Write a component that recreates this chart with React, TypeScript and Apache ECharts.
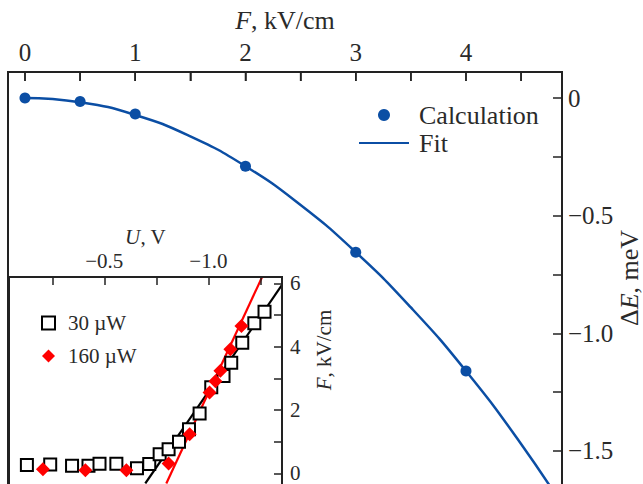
import React, { useEffect, useRef } from "react";
import * as echarts from "echarts";

// Main chart: calculation points and fit curve
const fieldCalc = [0, 0.5, 1, 2, 3, 4];
const deltaECalc = [0, -0.015, -0.068, -0.29, -0.655, -1.16];
const fieldFit = [0, 0.5, 1, 1.5, 2, 2.5, 3, 3.5, 4, 4.5, 4.9];
const deltaEFit = [0, -0.018, -0.072, -0.163, -0.29, -0.455, -0.655, -0.89, -1.16, -1.47, -1.75];

// Inset: F versus U
const u30 = [-0.128, -0.24, -0.345, -0.424, -0.477, -0.558, -0.657, -0.716, -0.766, -0.809, -0.859, -0.907, -0.958, -1.014, -1.073, -1.11, -1.163, -1.221, -1.27];
const f30 = [0.26, 0.28, 0.24, 0.24, 0.3, 0.3, 0.16, 0.29, 0.6, 0.76, 1.0, 1.39, 1.89, 2.72, 3.07, 3.49, 4.12, 4.74, 5.1];
const u160 = [-0.205, -0.409, -0.606, -0.809, -0.91, -1.006, -1.034, -1.058, -1.106, -1.159];
const f160 = [0.13, 0.1, 0.1, 0.31, 1.23, 2.55, 2.91, 3.24, 3.92, 4.65];
const uFit30 = [-0.697, -1.354];
const fFit30 = [-0.32, 5.95];
const uFit160 = [-0.798, -1.274];
const fFit160 = [-0.32, 6.42];

// Tick values
const mainXTicks = [0, 0.5, 1, 1.5, 2, 2.5, 3, 3.5, 4, 4.5];
const mainXLabels = [0, 1, 2, 3, 4];
const mainYTicks = [0, -0.25, -0.5, -0.75, -1, -1.25, -1.5];
const mainYLabels = [0, -0.5, -1, -1.5];
const insetXTicks = [-0.25, -0.5, -0.75, -1, -1.25];
const insetXLabels = [-0.5, -1];
const insetYTicks = [0, 1, 2, 3, 4, 5, 6];
const insetYLabels = [0, 2, 4, 6];

const X_MIN = -0.154;
const X_MAX = 4.871;
const Y_MIN = -1.653;
const Y_MAX = 0.1105;
const GRID_TOP = 72;

const FONT = "Liberation Serif";
const TXT = "#2a2a2a";
const AXC = "#222";
const BLUE = "#0b4ea4";

const zip = (a: number[], b: number[]) => a.map((v, i) => [v, b[i]]);
const fmtNeg = (v: number) => (v === 0 ? "0" : v < 0 ? "\u2212" + Math.abs(v).toFixed(1) : String(v));
const lineAx = () => ({ show: true, onZero: false, lineStyle: { color: AXC, width: 2 } });
const tickAx = (vals: number[], len: number) => ({
  show: true,
  inside: true,
  length: len,
  customValues: vals,
  lineStyle: { color: AXC, width: 1.5 },
});

const textGraphics = [
  {
    id: "titleTop",
    type: "text",
    x: 285,
    y: 20,
    z: 50,
    style: {
      text: "{i|F}, kV/cm",
      fontFamily: FONT,
      fontSize: 26,
      fill: TXT,
      align: "center",
      verticalAlign: "middle",
      rich: { i: { fontFamily: FONT, fontSize: 26, fontStyle: "italic", fill: TXT } },
    },
  },
  {
    id: "titleRight",
    type: "text",
    x: 629,
    y: 278,
    z: 50,
    rotation: Math.PI / 2,
    style: {
      text: "\u0394{i|E}, meV",
      fontFamily: FONT,
      fontSize: 26,
      fill: TXT,
      align: "center",
      verticalAlign: "middle",
      rich: { i: { fontFamily: FONT, fontSize: 26, fontStyle: "italic", fill: TXT } },
    },
  },
  {
    id: "titleInset",
    type: "text",
    x: 324,
    y: 350,
    z: 50,
    rotation: Math.PI / 2,
    style: {
      text: "{i|F}, kV/cm",
      fontFamily: FONT,
      fontSize: 21,
      fill: TXT,
      align: "center",
      verticalAlign: "middle",
      rich: { i: { fontFamily: FONT, fontSize: 21, fontStyle: "italic", fill: TXT } },
    },
  },
];

export default function App() {
  const ref = useRef<HTMLDivElement>(null);
  useEffect(() => {
    if (!ref.current) return;
    const chart = echarts.init(ref.current, undefined, { renderer: "svg" });
    const option: any = {
      animation: false,
      grid: [
        {
          left: 8,
          right: 81,
          top: GRID_TOP,
          bottom: -3,
          outerBoundsMode: "none",
          containLabel: false,
          show: true,
          borderColor: AXC,
          borderWidth: 2,
          backgroundColor: "transparent",
        },
        {
          left: 9,
          right: 361,
          top: 277,
          bottom: -3,
          outerBoundsMode: "none",
          containLabel: false,
          show: true,
          borderColor: AXC,
          borderWidth: 2,
          backgroundColor: "#fff",
        },
      ],
      legend: [
        {
          data: [
            { name: "Calculation", icon: "circle" },
            { name: "Fit", itemStyle: { opacity: 0 } },
          ],
          orient: "vertical",
          left: 358,
          top: 102,
          padding: 0,
          itemWidth: 50,
          itemHeight: 12,
          itemGap: 2,
          textStyle: { fontFamily: FONT, fontSize: 26, color: TXT, lineHeight: 26, padding: [0, 0, 0, 5] },
        },
        {
          data: ["30 \u00b5W", "160 \u00b5W"],
          orient: "vertical",
          left: 41,
          top: 312,
          padding: 0,
          itemWidth: 13,
          itemHeight: 13,
          itemGap: 11,
          textStyle: { fontFamily: FONT, fontSize: 21, color: TXT, lineHeight: 22, padding: [0, 0, 0, 8] },
        },
      ],
      xAxis: [
        {
          gridIndex: 0,
          type: "value",
          position: "top",
          min: X_MIN,
          max: X_MAX,
          z: 10,
          axisLine: lineAx(),
          splitLine: { show: false },
          axisTick: tickAx(mainXTicks, 9),
          axisLabel: {
            customValues: mainXLabels,
            margin: 7,
            fontFamily: FONT,
            fontSize: 25,
            color: TXT,
            formatter: (v: number) => String(v),
          },
        },
        {
          gridIndex: 1,
          type: "value",
          position: "top",
          inverse: true,
          min: -1.354,
          max: -0.042,
          z: 10,
          axisLine: lineAx(),
          splitLine: { show: false },
          axisTick: tickAx(insetXTicks, 8),
          axisLabel: {
            customValues: insetXLabels,
            margin: 6,
            fontFamily: FONT,
            fontSize: 21,
            color: TXT,
            formatter: fmtNeg,
          },
          name: "{i|U}, V",
          nameLocation: "middle",
          nameGap: 30,
          nameTextStyle: {
            fontFamily: FONT,
            fontSize: 21,
            color: TXT,
            rich: { i: { fontFamily: FONT, fontSize: 21, fontStyle: "italic", color: TXT } },
          },
        },
      ],
      yAxis: [
        {
          gridIndex: 0,
          type: "value",
          position: "right",
          min: Y_MIN,
          max: Y_MAX,
          z: 10,
          axisLine: lineAx(),
          splitLine: { show: false },
          axisTick: tickAx(mainYTicks, 9),
          axisLabel: {
            customValues: mainYLabels,
            margin: 6,
            fontFamily: FONT,
            fontSize: 25,
            color: TXT,
            formatter: fmtNeg,
          },
        },
        {
          gridIndex: 1,
          type: "value",
          position: "right",
          min: -0.433,
          max: 6.2,
          z: 10,
          axisLine: lineAx(),
          splitLine: { show: false },
          axisTick: tickAx(insetYTicks, 8),
          axisLabel: {
            customValues: insetYLabels,
            margin: 8,
            fontFamily: FONT,
            fontSize: 21,
            color: TXT,
            formatter: (v: number) => String(v),
          },
        },
      ],
      graphic: textGraphics,
      series: [
        {
          name: "Fit",
          type: "line",
          xAxisIndex: 0,
          yAxisIndex: 0,
          data: zip(fieldFit, deltaEFit),
          smooth: true,
          symbol: "none",
          clip: true,
          lineStyle: { color: BLUE, width: 2.5 },
          itemStyle: { color: BLUE },
        },
        {
          name: "Calculation",
          type: "scatter",
          xAxisIndex: 0,
          yAxisIndex: 0,
          data: zip(fieldCalc, deltaECalc),
          symbol: "circle",
          symbolSize: 11,
          itemStyle: { color: BLUE, opacity: 1 },
          z: 3,
        },
        {
          name: "fit30",
          type: "line",
          xAxisIndex: 1,
          yAxisIndex: 1,
          data: zip(uFit30, fFit30),
          symbol: "none",
          clip: true,
          lineStyle: { color: "#000", width: 2.2 },
          z: 2,
        },
        {
          name: "fit160",
          type: "line",
          xAxisIndex: 1,
          yAxisIndex: 1,
          data: zip(uFit160, fFit160),
          symbol: "none",
          clip: true,
          lineStyle: { color: "#ff0000", width: 2.2 },
          z: 2,
        },
        {
          name: "30 \u00b5W",
          type: "scatter",
          xAxisIndex: 1,
          yAxisIndex: 1,
          data: zip(u30, f30),
          symbol: "rect",
          symbolSize: 12,
          itemStyle: { color: "#fff", borderColor: "#000", borderWidth: 2, opacity: 1 },
          z: 3,
        },
        {
          name: "160 \u00b5W",
          type: "scatter",
          xAxisIndex: 1,
          yAxisIndex: 1,
          data: zip(u160, f160),
          symbol: "diamond",
          symbolSize: 14,
          itemStyle: { color: "#ff0000", opacity: 1 },
          z: 4,
        },
      ],
    };
    chart.setOption(option);

    // Top frame and ticks of the main plot as filled bars, x positions from the library's scale
    const toX = (v: number) => {
      const p: any = chart.convertToPixel({ xAxisIndex: 0 }, v);
      return Array.isArray(p) ? Number(p[0]) : Number(p);
    };
    const leftX = toX(X_MIN);
    const rightX = toX(X_MAX);
    const extra: any[] = [];
    if (isFinite(leftX) && isFinite(rightX)) {
      extra.push({
        id: "topFrame",
        type: "rect",
        z: 200,
        shape: { x: leftX - 1, y: GRID_TOP - 1, width: rightX - leftX + 2, height: 2 },
        style: { fill: AXC },
      });
      mainXTicks.forEach((v, i) => {
        const x = toX(v);
        if (!isFinite(x)) return;
        extra.push({
          id: "topTick" + i,
          type: "rect",
          z: 200,
          shape: { x: x - 0.75, y: GRID_TOP, width: 1.5, height: 9 },
          style: { fill: AXC },
        });
      });
    }
    chart.setOption({ graphic: [...textGraphics, ...extra] } as any);
    return () => chart.dispose();
  }, []);
  return (
    <div
      ref={ref}
      style={{ position: "fixed", left: 0, top: 0, width: 643, height: 484, background: "#fff" }}
    />
  );
}
